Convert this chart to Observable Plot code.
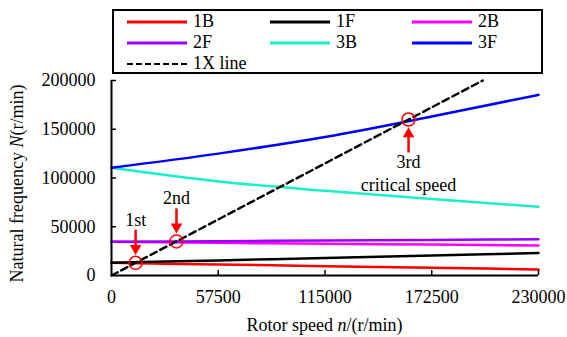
<!DOCTYPE html>
<html><head><meta charset="utf-8">
<script src="https://cdn.jsdelivr.net/npm/d3@7"></script>
<script src="https://cdn.jsdelivr.net/npm/@observablehq/plot@0.6"></script>
<style>
body{margin:0;background:#fff;font-family:"Liberation Serif","Times New Roman","DejaVu Serif",serif;}
#wrap{width:567px;height:337px;position:relative;overflow:hidden;background:#fff}
#legend{box-sizing:border-box;margin:9px 0 0 112px;width:431px;height:65px;border:2px solid #000;display:grid;grid-template-columns:143px 142px 142px;grid-auto-rows:21px;font-size:18px;line-height:21px;color:#000}
.item{display:flex;align-items:center;padding-left:13px;white-space:nowrap}
.item svg{margin-right:6px;display:block}
#chart svg{overflow:visible;display:block}
</style></head>
<body><div id="wrap"><div id="legend"></div><div id="chart"></div></div>
<script>
// ---- data ----
const speeds = [0, 57500, 115000, 172500, 230000];
const modes = ["1B", "1F", "2B", "2F", "3B", "3F"];
const mode1B = [13000, 11300, 9600, 7900, 6200];
const mode1F = [13000, 15500, 18000, 20500, 23000];
const mode2B = [34500, 33500, 32600, 31700, 30800];
const mode2F = [34500, 35200, 35900, 36500, 37200];
const mode3B = [110500, 96500, 87000, 78500, 70500];
const mode3F = [110500, 125000, 142000, 163000, 185300];
const oneXSpeeds = [0, 200000];
const oneXFreq = [0, 200000];
const critSpeeds = [13000, 35000, 160000];
const critLabels = ["1st", "2nd", "3rd\ncritical speed"];
const critSide = [-1, -1, 1]; // -1: annotation above, 1: below
const xTicks = [0, 57500, 115000, 172500, 230000];
const yTicks = [0, 50000, 100000, 150000, 200000];
const colors = ["#ff0000", "#000000", "#ff00ff", "#9b00ff", "#19f0c8", "#0000ff"];

const series = [mode1B, mode1F, mode2B, mode2F, mode3B, mode3F];
const rows = [];
modes.forEach((m, i) => speeds.forEach((s, j) => rows.push({mode: m, speed: s, freq: series[i][j]})));
const oneX = oneXSpeeds.map((s, i) => ({speed: s, freq: oneXFreq[i]}));
const crit = critSpeeds.map((s, i) => ({speed: s, freq: s, label: critLabels[i], side: critSide[i]}));

// ---- legend ----
const legend = document.getElementById("legend");
const entries = modes.map((m, i) => ({name: m, color: colors[i], dash: null}))
  .concat([{name: "1X line", color: "#000", dash: "6,3"}]);
for (const e of entries) {
  const it = document.createElement("div");
  it.className = "item";
  it.innerHTML = `<svg width="60" height="6"><line x1="0" x2="60" y1="3" y2="3" stroke="${e.color}" ${e.dash ? `stroke-dasharray="${e.dash}" stroke-width="2.2"` : `stroke-width="3"`}/></svg><span>${e.name}</span>`;
  legend.appendChild(it);
}

// ---- chart ----
const H = 263, mT = 6, mB = 62, mL = 111, mR = 29, W = 567;
const uy = 200000 / (H - mT - mB); // data units per px (y)
const ux = 230000 / (W - mL - mR); // data units per px (x)
const FONT = '"Liberation Serif","Times New Roman","DejaVu Serif",serif';

const svg = Plot.plot({
  width: W, height: H,
  marginTop: mT, marginBottom: mB, marginLeft: mL, marginRight: mR,
  x: {domain: [0, 230000]},
  y: {domain: [0, 200000]},
  color: {domain: modes, range: colors},
  style: {fontSize: "18px", fontFamily: FONT, overflow: "visible", background: "transparent"},
  marks: [
    Plot.axisX({ticks: xTicks, tickSize: 0, tickPadding: 15, tickFormat: d => String(d), label: null, fontFamily: FONT}),
    Plot.axisY({ticks: yTicks, tickSize: 0, tickPadding: 16, tickFormat: d => String(d), label: null, fontFamily: FONT}),
    Plot.line(rows, {x: "speed", y: "freq", z: "mode", stroke: "mode", strokeWidth: 2.5, curve: "monotone-x"}),
    Plot.line(oneX, {x: "speed", y: "freq", stroke: "#000", strokeWidth: 2.4, strokeDasharray: "7,4"}),
    Plot.ruleX([0], {y1: 0, y2: 200000, stroke: "#000", strokeWidth: 2}),
    Plot.ruleY([0], {x1: 0, x2: 230000, stroke: "#000", strokeWidth: 2}),
    Plot.ruleX(xTicks.filter(d => d > 0), {x: d => d, y1: 0, y2: 5 * uy, stroke: "#000", strokeWidth: 1.5}),
    Plot.ruleY(yTicks.filter(d => d > 0), {y: d => d, x1: 0, x2: 5 * ux, stroke: "#000", strokeWidth: 1.5}),
    Plot.dot(crit, {x: "speed", y: "freq", r: 6.5, stroke: "#ff0000", strokeWidth: 1.5, fill: "none"}),
    Plot.link(crit, {x1: "speed", x2: "speed", y1: d => d.freq - d.side * 16 * uy, y2: d => d.freq - d.side * 33 * uy, stroke: "#ff0000", strokeWidth: 2.5}),
    Plot.dot(crit, {x: "speed", y: d => d.freq - d.side * 14.5 * uy, symbol: "triangle", r: 4.3, fill: "#ff0000", stroke: "none", rotate: d => d.side < 0 ? 180 : 0}),
    Plot.text(crit.filter(d => d.side < 0), {x: "speed", y: "freq", text: "label", dy: -43, fill: "#000", fontFamily: FONT}),
    Plot.text(crit.filter(d => d.side > 0), {x: "speed", y: "freq", text: "label", dy: 53, lineHeight: 1.28, fill: "#000", fontFamily: FONT})
  ]
});
const s = d3.select(svg);
const xl = s.append("text").attr("x", (mL + W - mR) / 2).attr("y", 257).attr("text-anchor", "middle").attr("fill", "#000").attr("font-size", 18).attr("font-family", FONT);
xl.append("tspan").text("Rotor speed ");
xl.append("tspan").attr("font-style", "italic").text("n");
xl.append("tspan").text("/(r/min)");
const yl = s.append("text").attr("transform", `translate(23,${(mT + H - mB) / 2 + 6}) rotate(-90)`).attr("text-anchor", "middle").attr("fill", "#000").attr("font-size", 18).attr("font-family", FONT);
yl.append("tspan").text("Natural frequency ");
yl.append("tspan").attr("font-style", "italic").text("N");
yl.append("tspan").text("(r/min)");
document.getElementById("chart").appendChild(svg);
</script></body></html>
